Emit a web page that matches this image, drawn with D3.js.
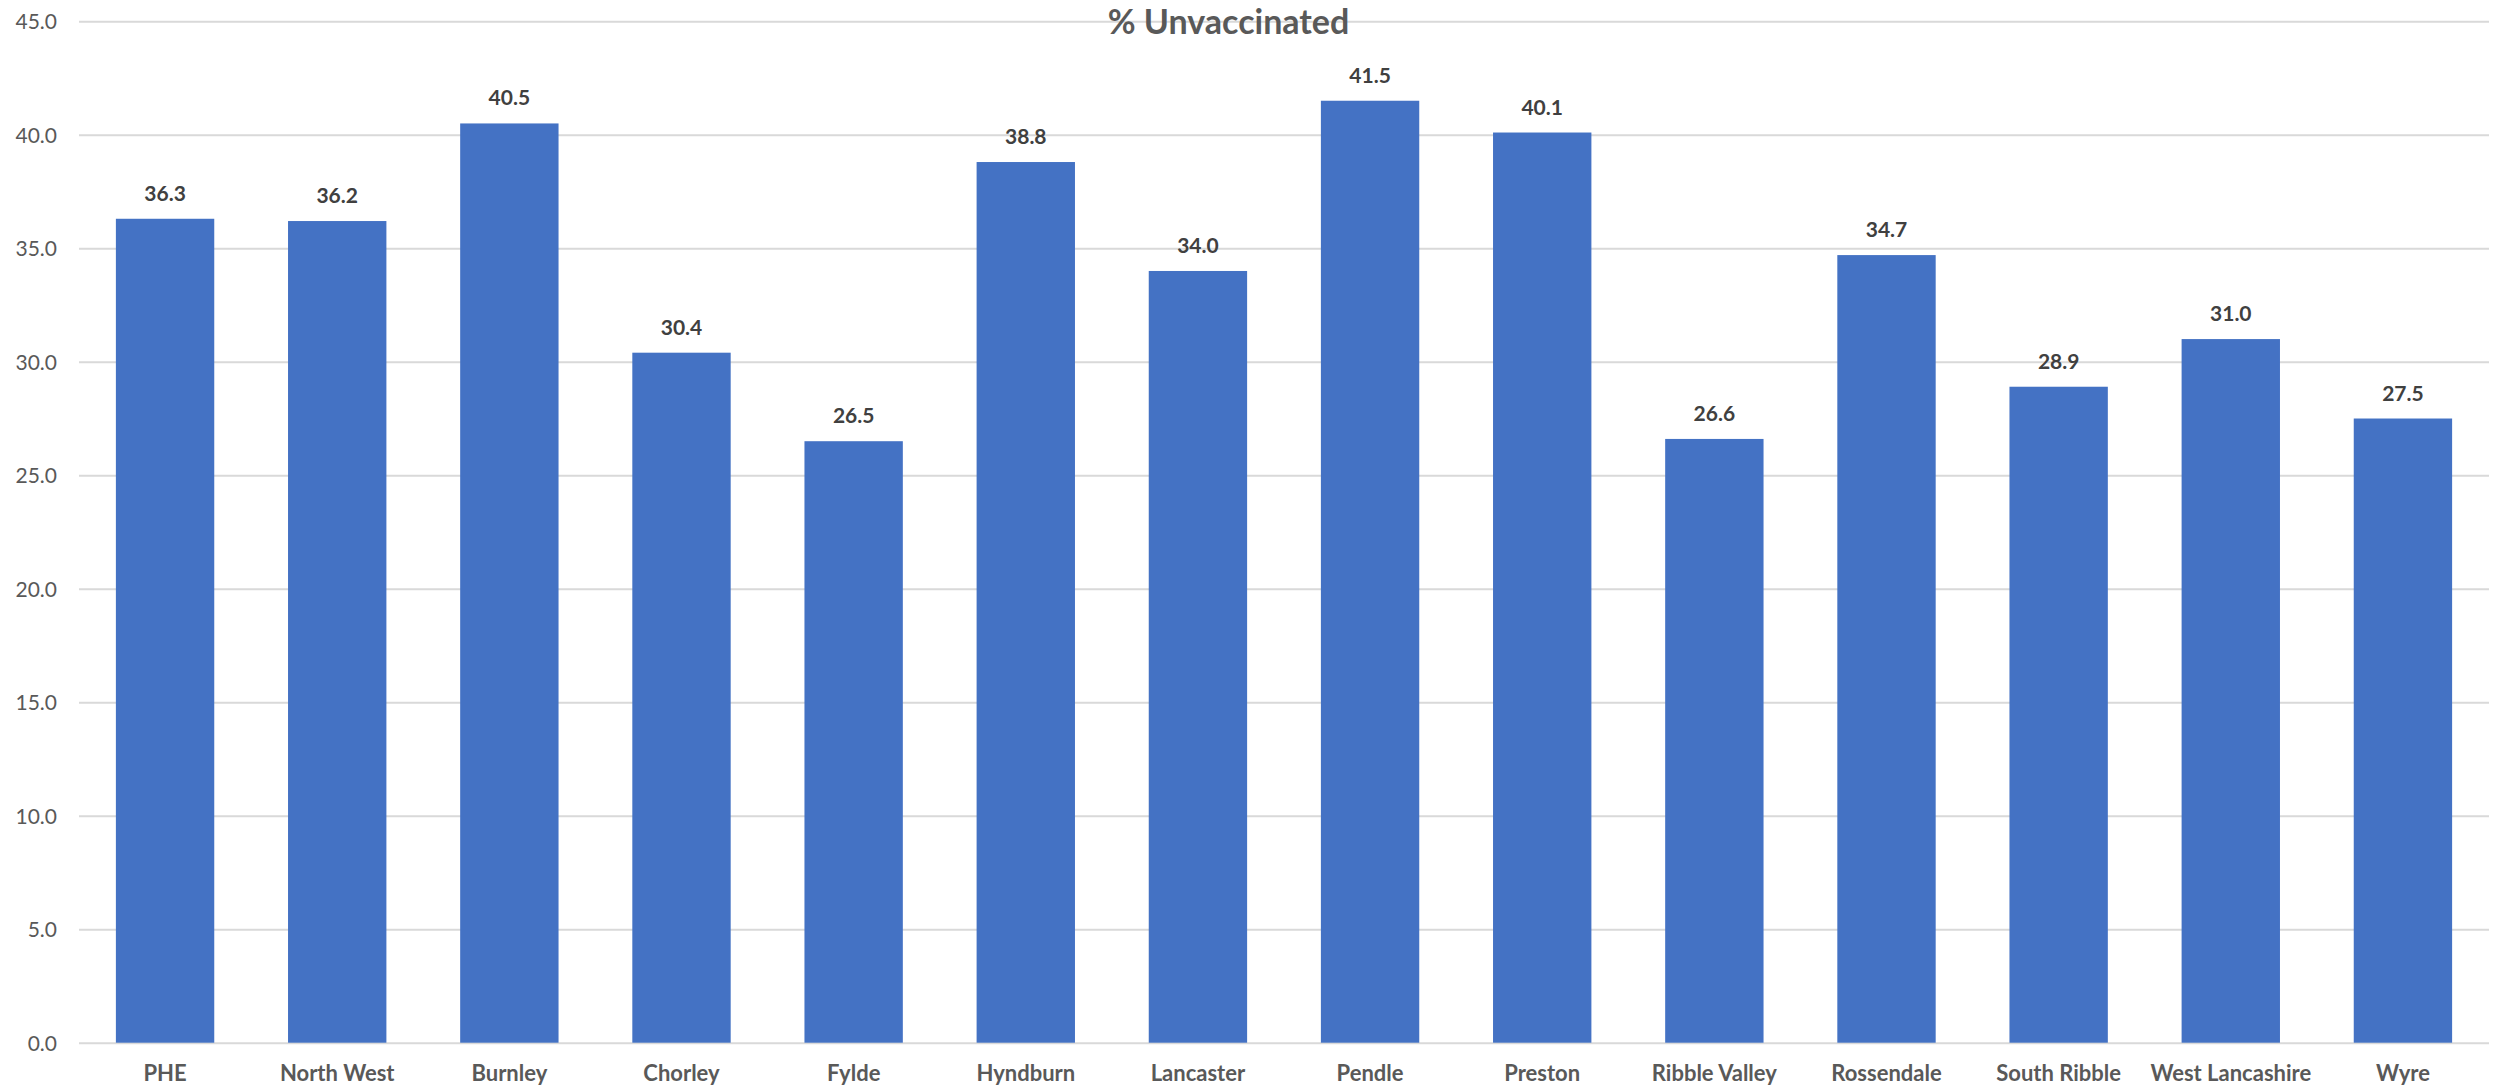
<!DOCTYPE html>
<html>
<head>
<meta charset="utf-8">
<script src="https://cdn.jsdelivr.net/npm/d3@7"></script>
<style>
  html, body { margin: 0; padding: 0; background: #fff; }
  svg { display: block; }
</style>
</head>
<body>
<svg id="chart" width="2501" height="1088"></svg>
<script>
const categories = ["PHE", "North West", "Burnley", "Chorley", "Fylde", "Hyndburn", "Lancaster", "Pendle", "Preston", "Ribble Valley", "Rossendale", "South Ribble", "West Lancashire", "Wyre"];
const values = [36.3, 36.2, 40.5, 30.4, 26.5, 38.8, 34.0, 41.5, 40.1, 26.6, 34.7, 28.9, 31.0, 27.5];
const yTicks = [0, 5, 10, 15, 20, 25, 30, 35, 40, 45];
const title = "% Unvaccinated";

const W = 2501, H = 1088;
const m = { left: 79, right: 12, top: 21.3, bottom: 45.3 };
const svg = d3.select("#chart");
const font = "Lato, 'Open Sans', sans-serif";

const x = d3.scaleBand().domain(categories).range([m.left, W - m.right]).paddingInner(0.75 / 1.75).paddingOuter(0.75 / 3.5);
const y = d3.scaleLinear().domain([0, 45]).range([H - m.bottom, m.top]);

// gridlines
const grid = svg.append("g")
  .attr("transform", `translate(${m.left},0)`)
  .call(d3.axisLeft(y).tickValues(yTicks).tickSize(-(W - m.right - m.left)).tickFormat(""));
grid.select(".domain").remove();
grid.selectAll(".tick line").attr("stroke", "#d9d9d9").attr("stroke-width", 2);

// y labels
const yAxis = svg.append("g")
  .attr("transform", `translate(${m.left},0)`)
  .call(d3.axisLeft(y).tickValues(yTicks).tickSize(0).tickPadding(22).tickFormat(d3.format(".1f")));
yAxis.select(".domain").remove();
yAxis.selectAll("text").attr("font-family", font).attr("font-size", 21).attr("fill", "#595959").attr("dy", "0.36em");

// bars
svg.append("g").selectAll("rect").data(values).join("rect")
  .attr("x", (d, i) => x(categories[i]))
  .attr("width", x.bandwidth())
  .attr("y", d => y(d))
  .attr("height", d => y(0) - y(d))
  .attr("fill", "#4472c4");

// data labels
svg.append("g").selectAll("text").data(values).join("text")
  .attr("x", (d, i) => x(categories[i]) + x.bandwidth() / 2)
  .attr("y", d => y(d) - 18)
  .attr("text-anchor", "middle")
  .attr("font-family", font).attr("font-weight", "bold").attr("font-size", 21)
  .attr("fill", "#404040")
  .text(d => d3.format(".1f")(d));

// x axis labels
const xAxis = svg.append("g")
  .attr("transform", `translate(0,${y(0)})`)
  .call(d3.axisBottom(x).tickSize(0).tickPadding(0));
xAxis.select(".domain").remove();
xAxis.selectAll("text").attr("font-family", font).attr("font-weight", "bold").attr("font-size", 22)
  .attr("fill", "#595959").attr("dy", null).attr("y", 38.8);

// title
svg.append("text")
  .attr("x", 1228.5).attr("y", 33.5)
  .attr("text-anchor", "middle")
  .attr("font-family", font).attr("font-weight", "bold").attr("font-size", 34)
  .attr("fill", "#595959")
  .text(title);
</script>
</body>
</html>
